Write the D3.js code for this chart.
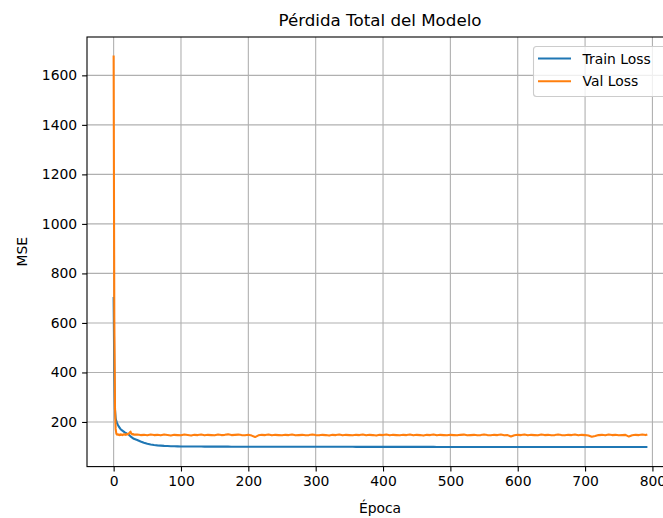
<!DOCTYPE html>
<html>
<head>
<meta charset="utf-8">
<script src="https://cdn.jsdelivr.net/npm/d3@7"></script>
<style>
  body { margin: 0; background: #fff; }
  svg { display: block; font-family: "DejaVu Sans", sans-serif; }
</style>
</head>
<body>
<div id="chart"></div>
<script>
// data //
const title = 'Pérdida Total del Modelo'
const xLabel = 'Época'
const yLabel = 'MSE'
const seriesNames = ['Train Loss', 'Val Loss']

const epochs = [
  0, 1, 2, 3, 4, 5, 6, 7, 8, 9, 10, 11, 12, 13, 14, 15, 16, 17, 18, 19, 20,
  21, 22, 23, 24, 25, 26, 27, 28, 29, 30,
  35, 40, 45, 50, 55, 60, 65, 70, 75, 80,
  85, 90, 95, 100, 105, 110, 115, 120, 125, 130,
  135, 140, 145, 150, 155, 160, 165, 170, 175, 180,
  185, 190, 195, 200, 205, 210, 215, 220, 225, 230,
  235, 240, 245, 250, 255, 260, 265, 270, 275, 280,
  285, 290, 295, 300, 305, 310, 315, 320, 325, 330,
  335, 340, 345, 350, 355, 360, 365, 370, 375, 380,
  385, 390, 395, 400, 405, 410, 415, 420, 425, 430,
  435, 440, 445, 450, 455, 460, 465, 470, 475, 480,
  485, 490, 495, 500, 505, 510, 515, 520, 525, 530,
  535, 540, 545, 550, 555, 560, 565, 570, 575, 580,
  585, 590, 595, 600, 605, 610, 615, 620, 625, 630,
  635, 640, 645, 650, 655, 660, 665, 670, 675, 680,
  685, 690, 695, 700, 705, 710, 715, 720, 725, 730,
  735, 740, 745, 750, 755, 760, 765, 770, 775, 780,
  785, 790, 791
]

const trainLoss = [
  701, 390, 250, 215, 203, 196, 190, 185, 180, 176, 172, 169, 167, 165, 163, 161, 159, 157, 156, 154, 153,
  151, 150, 147, 145, 142, 140, 138, 136, 134, 132,
  127, 121, 116, 112, 109, 107, 105.5, 104.5, 103.5, 102.8,
  102.2, 101.8, 101.5, 101.2, 101, 100.9, 100.8, 100.7, 100.6, 100.6,
  100.5, 100.5, 100.4, 100.4, 100.4, 100.3, 100.3, 100.3, 100.2, 100.2,
  100.2, 100.2, 100.1, 100.1, 100.1, 100.1, 100.0, 100.0, 100.0, 100.0,
  100.0, 99.9, 99.9, 99.9, 99.9, 99.9, 99.8, 99.8, 99.8, 99.8,
  99.8, 99.8, 99.7, 99.7, 99.7, 99.7, 99.7, 99.7, 99.6, 99.6,
  99.6, 99.6, 99.6, 99.6, 99.6, 99.5, 99.5, 99.5, 99.5, 99.5,
  99.5, 99.5, 99.5, 99.4, 99.4, 99.4, 99.4, 99.4, 99.4, 99.4,
  99.4, 99.3, 99.3, 99.3, 99.3, 99.3, 99.3, 99.3, 99.3, 99.2,
  99.2, 99.2, 99.2, 99.2, 99.2, 99.2, 99.2, 99.1, 99.1, 99.1,
  99.1, 99.1, 99.1, 99.1, 99.1, 99.1, 99.0, 99.0, 99.0, 99.0,
  99.0, 99.0, 99.0, 99.0, 99.0, 99.0, 98.9, 98.9, 98.9, 98.9,
  98.9, 98.9, 98.9, 98.9, 98.9, 98.9, 98.9, 98.8, 98.8, 98.8,
  98.8, 98.8, 98.8, 98.8, 98.8, 98.8, 98.8, 98.8, 98.7, 98.7,
  98.7, 98.7, 98.7, 98.7, 98.7, 98.7, 98.7, 98.7, 98.7, 98.7,
  98.6, 98.6, 98.6
]

const valLoss = [
  1676, 620, 260, 172, 153, 149, 150, 148, 149, 147, 150, 148, 149, 147, 148, 150, 149, 148, 150, 149, 151,
  150, 152, 155, 158, 161, 154, 152, 150, 151, 149,
  149, 147, 148, 146, 149, 147, 148, 146, 149, 147,
  145, 148, 147, 146, 149, 147, 145, 148, 147, 149,
  146, 148, 147, 146, 149, 147, 148, 150, 147, 148,
  149, 147, 146, 148, 145, 139, 146, 148, 147, 149,
  146, 148, 147, 146, 148, 147, 149, 146, 147, 148,
  146, 147, 149, 147, 146, 148, 147, 145, 148, 147,
  149, 146, 148, 147, 146, 148, 147, 149, 146, 148,
  147, 145, 148, 147, 149, 146, 148, 147, 146, 148,
  147, 149, 146, 148, 147, 145, 148, 147, 149, 146,
  148, 147, 146, 148, 147, 146, 148, 149, 146, 147,
  148, 146, 147, 149, 147, 146, 148, 147, 149, 146,
  147, 141, 146, 148, 147, 149, 146, 148, 147, 146,
  149, 147, 148, 146, 147, 149, 147, 146, 148, 147,
  149, 146, 148, 147, 145, 140, 143, 147, 148, 146,
  149, 147, 148, 146, 147, 148, 141, 146, 148, 147,
  149, 147, 148
]

const xTicks = [0, 100, 200, 300, 400, 500, 600, 700, 800]
const yTicks = [200, 400, 600, 800, 1000, 1200, 1400, 1600]
const colors = ['#1f77b4', '#ff7f0e']

// svg //
const width = 663
const height = 518
const margin = { top: 37, left: 87 }
const plotRight = 673
const plotBottom = 466.6
const fontSize = 13.9

const svg = d3.select('#chart').append('svg')
  .attr('width', width)
  .attr('height', height)

const rows = epochs.map((e, i) => ({ epoch: e, train: trainLoss[i], val: valLoss[i] }))

// scales, matplotlib style 5% margins
const xExt = d3.extent(epochs)
const xPad = (xExt[1] - xExt[0]) * 0.05
const x = d3.scaleLinear()
  .domain([xExt[0] - xPad, xExt[1] + xPad])
  .range([margin.left, plotRight])

const yExt = d3.extent(trainLoss.concat(valLoss))
const yPad = (yExt[1] - yExt[0]) * 0.05
const y = d3.scaleLinear()
  .domain([yExt[0] - yPad, yExt[1] + yPad])
  .range([plotBottom, margin.top])

// grid
svg.append('g')
  .selectAll('line')
  .data(xTicks)
  .enter()
  .append('line')
  .attr('x1', d => x(d)).attr('x2', d => x(d))
  .attr('y1', margin.top).attr('y2', plotBottom)
  .attr('stroke', '#b0b0b0')
  .attr('stroke-width', 1.1)

svg.append('g')
  .selectAll('line')
  .data(yTicks)
  .enter()
  .append('line')
  .attr('x1', margin.left).attr('x2', plotRight)
  .attr('y1', d => y(d)).attr('y2', d => y(d))
  .attr('stroke', '#b0b0b0')
  .attr('stroke-width', 1.1)

// lines
const keys = ['train', 'val']
keys.forEach((k, i) => {
  svg.append('path')
    .datum(rows)
    .attr('fill', 'none')
    .attr('stroke', colors[i])
    .attr('stroke-width', 2.08)
    .attr('stroke-linejoin', 'round')
    .attr('stroke-linecap', 'square')
    .attr('d', d3.line().x(d => x(d.epoch)).y(d => y(d[k])))
})

// axes
const xAxis = svg.append('g')
  .attr('transform', `translate(0, ${plotBottom})`)
  .call(d3.axisBottom(x).tickValues(xTicks).tickFormat(d3.format('d'))
    .tickSize(4.9).tickPadding(4.9).tickSizeOuter(0))
const yAxis = svg.append('g')
  .attr('transform', `translate(${margin.left}, 0)`)
  .call(d3.axisLeft(y).tickValues(yTicks).tickFormat(d3.format('d'))
    .tickSize(4.9).tickPadding(4.9).tickSizeOuter(0))

;[xAxis, yAxis].forEach(a => {
  a.select('.domain').remove()
  a.selectAll('line').attr('stroke', '#000').attr('stroke-width', 1.1)
  a.selectAll('text')
    .attr('fill', '#000')
    .style('font-size', fontSize + 'px')
    .style('font-family', '"DejaVu Sans", sans-serif')
})

// spines
svg.append('rect')
  .attr('x', margin.left)
  .attr('y', margin.top)
  .attr('width', plotRight - margin.left)
  .attr('height', plotBottom - margin.top)
  .attr('fill', 'none')
  .attr('stroke', '#000')
  .attr('stroke-width', 1.1)

// title and labels
svg.append('text')
  .attr('x', (margin.left + plotRight) / 2)
  .attr('y', 26)
  .attr('text-anchor', 'middle')
  .style('font-size', '16.7px')
  .text(title)

svg.append('text')
  .attr('x', (margin.left + plotRight) / 2)
  .attr('y', 513)
  .attr('text-anchor', 'middle')
  .style('font-size', fontSize + 'px')
  .text(xLabel)

svg.append('text')
  .attr('transform', `translate(26.5, ${(margin.top + plotBottom) / 2}) rotate(-90)`)
  .attr('text-anchor', 'middle')
  .style('font-size', fontSize + 'px')
  .text(yLabel)

// legend
const legend = svg.append('g')
legend.append('rect')
  .attr('x', 533.5)
  .attr('y', 46.5)
  .attr('width', 134)
  .attr('height', 50)
  .attr('rx', 3)
  .attr('fill', 'rgba(255,255,255,0.8)')
  .attr('stroke', '#cccccc')
  .attr('stroke-width', 1.1)

seriesNames.forEach((name, i) => {
  const cy = 58.5 + i * 22.8
  legend.append('line')
    .attr('x1', 538).attr('x2', 571)
    .attr('y1', cy).attr('y2', cy)
    .attr('stroke', colors[i])
    .attr('stroke-width', 2.08)
  legend.append('text')
    .attr('x', 582.5)
    .attr('y', cy + 5)
    .style('font-size', fontSize + 'px')
    .text(name)
})
</script>
</body>
</html>
